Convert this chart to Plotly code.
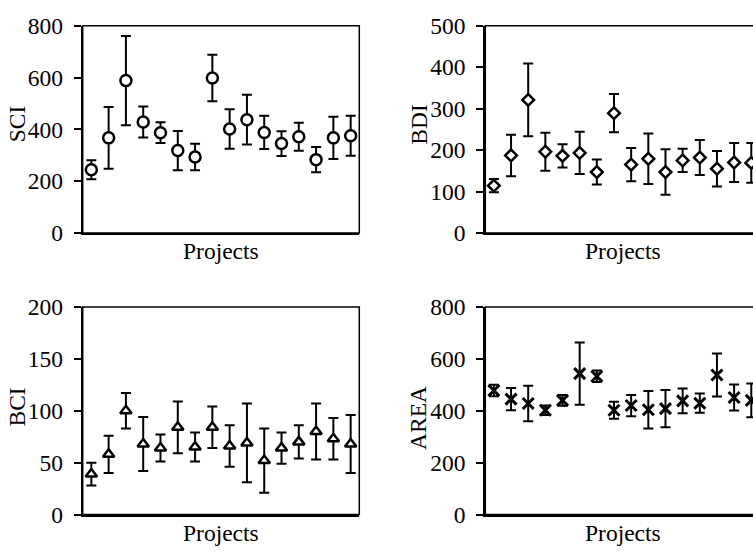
import plotly.graph_objects as go

# ---------------- data ----------------
projects = list(range(1, 17))

sci_mean = [244, 367, 588, 428, 387, 318, 293, 598, 401, 437, 388, 345, 371, 283, 367, 375]
sci_err = [37, 119, 172, 60, 40, 76, 51, 90, 76, 96, 64, 48, 54, 49, 82, 77]

bdi_mean = [114, 187, 321, 196, 186, 193, 147, 289, 165, 179, 147, 175, 182, 155, 170, 169]
bdi_err = [16, 50, 88, 46, 28, 51, 30, 46, 40, 61, 55, 28, 42, 43, 47, 48]

bci_mean = [39, 58, 100, 68, 64, 84, 65, 84, 66, 69, 52, 64, 70, 80, 73, 68]
bci_err = [11, 18, 17, 26, 13, 25, 14, 20, 20, 38, 31, 15, 16, 27, 20, 28]

area_mean = [478, 445, 428, 402, 440, 543, 533, 402, 420, 404, 408, 438, 429, 538, 451, 440]
area_err = [22, 43, 68, 18, 21, 120, 22, 33, 41, 72, 72, 48, 37, 83, 50, 65]

y_titles = ["SCI", "BDI", "BCI", "AREA"]
x_title = "Projects"
y_max = [800, 500, 200, 800]
y_step = [200, 100, 50, 200]

# ---------------- layout geometry ----------------
W, H = 753, 559
FONT = "Liberation Serif"
FS = 23.5


def fx(p):
    return p / W


def fy(p):
    return 1 - p / H


left_x = (82.7, 359.3)
right_x = (485.3, 753.0)
top_y = (13.3, 230.7)
bot_y = (308.3, 526.0)

panels = [
    dict(mean=sci_mean, err=sci_err, sym="circle", size=11, lw=2.5, xd=left_x, yd=top_y,
         xr=[0.5, 16.5], tx=16.7, ty=116, px=221),
    dict(mean=bdi_mean, err=bdi_err, sym="diamond", size=9, lw=2.5, xd=right_x, yd=top_y,
         xr=[0.5, 16.1], tx=418.7, ty=117.5, px=622.7),
    dict(mean=bci_mean, err=bci_err, sym="triangle-up", size=10, lw=2.5, xd=left_x, yd=bot_y,
         xr=[0.5, 16.5], tx=16.7, ty=413, px=221),
    dict(mean=area_mean, err=area_err, sym="x-thin", size=11, lw=3, xd=right_x, yd=bot_y,
         xr=[0.5, 16.1], tx=418.7, ty=425, px=622.7),
]

fig = go.Figure()
layout = dict(
    width=W, height=H,
    margin=dict(l=0, r=0, t=0, b=0),
    paper_bgcolor="white", plot_bgcolor="white",
    showlegend=False,
    font=dict(family=FONT, size=FS, color="black"),
)
annotations = []
shapes = []

for i, p in enumerate(panels):
    n = i + 1
    xa = "x" if n == 1 else f"x{n}"
    ya = "y" if n == 1 else f"y{n}"
    fig.add_trace(go.Scatter(
        x=projects, y=p["mean"], mode="markers",
        xaxis=xa, yaxis=ya,
        marker=dict(symbol=p["sym"], size=p["size"], color="white",
                    line=dict(color="black", width=p["lw"])),
        error_y=dict(type="data", array=p["err"], visible=True,
                     color="black", thickness=2, width=5),
    ))
    layout[f"xaxis{'' if n == 1 else n}"] = dict(
        domain=[fx(p["xd"][0]), fx(p["xd"][1])], anchor=ya,
        range=p["xr"], showticklabels=False, ticks="",
        showline=True, linewidth=2, linecolor="black",
        showgrid=False, zeroline=False,
    )
    layout[f"yaxis{'' if n == 1 else n}"] = dict(
        domain=[fy(p["yd"][1]), fy(p["yd"][0])], anchor=xa,
        range=[0, y_max[i]], dtick=y_step[i], tick0=0,
        ticks="outside", ticklen=7, tickwidth=2, tickcolor="black",
        showline=True, linewidth=2, linecolor="black",
        showgrid=False, zeroline=False,
        ticklabelstandoff=6,
        tickfont=dict(family=FONT, size=FS, color="black"),
    )
    # top/right frame
    xr_end = 1.0 if p["xd"][1] < W - 1 else (762.0 - p["xd"][0]) / (W - p["xd"][0])
    shapes.append(dict(type="rect", xref=f"{xa} domain", yref=f"{ya} domain",
                       x0=0, x1=xr_end, y0=0, y1=1,
                       line=dict(color="black", width=1.5), layer="below"))
    annotations.append(dict(
        text=y_titles[i], textangle=-90, showarrow=False,
        xref="paper", yref="paper", x=fx(p["tx"]), y=fy(p["ty"]),
        xanchor="center", yanchor="middle",
        font=dict(family=FONT, size=FS, color="black"),
    ))
    annotations.append(dict(
        text=x_title, showarrow=False,
        xref="paper", yref="paper", x=fx(p["px"]), y=fy(p["yd"][1] + 19),
        xanchor="center", yanchor="middle",
        font=dict(family=FONT, size=FS, color="black"),
    ))

layout["annotations"] = annotations
layout["shapes"] = shapes
fig.update_layout(**layout)
fig.write_html("out.html")
